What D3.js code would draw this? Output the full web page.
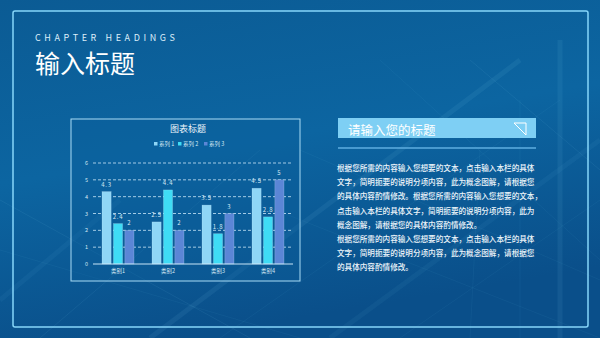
<html>
<head>
<meta charset="utf-8">
<style>
  body { margin: 0; background: #0b5a93; }
  svg { display: block; font-family: "Noto Sans CJK SC", "Noto Sans", sans-serif; }
</style>
</head>
<body>
  <div id="visualSVG"></div>
  <script src="https://d3js.org/d3.v7.min.js"></script>
  <script>
    // chart data
    var categories = ['类别1', '类别2', '类别3', '类别4'];
    var seriesNames = ['系列 1', '系列 2', '系列 3'];
    var series1 = [4.3, 2.5, 3.5, 4.5];
    var series2 = [2.4, 4.4, 1.8, 2.8];
    var series3 = [2, 2, 3, 5];
    var yTicks = [0, 1, 2, 3, 4, 5, 6];
    var seriesColors = ['#8fd6f6', '#3fdcf5', '#5b86d6'];

    var bodyLines = [
      '根据您所需的内容输入您想要的文本，点击输入本栏的具体',
      '文字，简明扼要的说明分项内容，此为概念图解，请根据您',
      '的具体内容酌情修改。根据您所需的内容输入您想要的文本，',
      '点击输入本栏的具体文字，简明扼要的说明分项内容，此为',
      '概念图解，请根据您的具体内容酌情修改。',
      '根据您所需的内容输入您想要的文本，点击输入本栏的具体',
      '文字，简明扼要的说明分项内容，此为概念图解，请根据您',
      '的具体内容酌情修改。'
    ];

    var svgWidth = 600, svgHeight = 338;
    var svg = d3.select('#visualSVG').append('svg')
      .attr('width', svgWidth)
      .attr('height', svgHeight);

    // background
    var defs = svg.append('defs');
    var bg = defs.append('linearGradient').attr('id', 'bg')
      .attr('x1', 0).attr('y1', 0).attr('x2', 0.3).attr('y2', 1);
    bg.append('stop').attr('offset', 0).attr('stop-color', '#0b5b94');
    bg.append('stop').attr('offset', 0.5).attr('stop-color', '#0c65a1');
    bg.append('stop').attr('offset', 1).attr('stop-color', '#0a4f8a');
    svg.append('rect').attr('width', svgWidth).attr('height', svgHeight).attr('fill', 'url(#bg)');

    // faint perspective lines in the background
    var deco = svg.append('g').attr('stroke', '#7fc4ee').attr('fill', 'none');
    var decoLines = [
      [150, 338, 520, 60], [220, 338, 560, 100], [0, 250, 300, 338], [0, 200, 250, 338],
      [330, 338, 600, 140], [400, 338, 600, 200], [470, 60, 600, 170], [380, 60, 600, 260],
      [0, 300, 120, 200], [40, 338, 260, 150], [250, 200, 600, 338], [300, 150, 600, 280],
      [560, 40, 560, 338], [520, 100, 520, 338], [480, 150, 470, 338]
    ];
    deco.selectAll('line').data(decoLines).enter().append('line')
      .attr('x1', function(d){ return d[0]; }).attr('y1', function(d){ return d[1]; })
      .attr('x2', function(d){ return d[2]; }).attr('y2', function(d){ return d[3]; })
      .attr('stroke-opacity', function(d, i){ return i % 3 == 0 ? 0.09 : 0.06; })
      .attr('stroke-width', function(d, i){ return i % 4 == 0 ? 5 : 1; });

    // frame
    svg.append('rect')
      .attr('x', 13).attr('y', 11).attr('width', 575).attr('height', 316)
      .attr('rx', 2)
      .attr('fill', 'none').attr('stroke', '#86d6fa').attr('stroke-width', 1.5);

    // headings
    svg.append('text')
      .attr('x', 35).attr('y', 41)
      .attr('font-size', 9).attr('fill', '#dceefa')
      .attr('textLength', 140).attr('lengthAdjust', 'spacing')
      .text('CHAPTER HEADINGS');
    svg.append('text')
      .attr('x', 35).attr('y', 73)
      .attr('font-size', 25).attr('fill', '#ffffff')
      .text('输入标题');

    // chart box
    svg.append('rect')
      .attr('x', 71).attr('y', 119).attr('width', 229).attr('height', 162)
      .attr('fill', '#0c5f9a').attr('fill-opacity', 0.35)
      .attr('stroke', '#a9dcf5').attr('stroke-width', 1);

    svg.append('text')
      .attr('x', 188).attr('y', 132)
      .attr('text-anchor', 'middle')
      .attr('font-size', 9).attr('fill', '#eef6fb')
      .text('图表标题');

    // legend
    var legendX = [154, 178, 204];
    var legend = svg.selectAll('.legend').data(seriesNames).enter().append('g')
      .attr('transform', function(d, i){ return 'translate(' + legendX[i] + ',144)'; });
    legend.append('rect').attr('x', 0).attr('y', -2).attr('width', 3.5).attr('height', 3.5)
      .attr('fill', function(d, i){ return seriesColors[i]; });
    legend.append('text').attr('x', 5).attr('y', 2)
      .attr('font-size', 5.5).attr('fill', '#d5e8f4')
      .text(function(d){ return d; });

    // scales
    var x0 = d3.scaleBand().domain(categories).range([93, 293])
      .paddingInner(0.36).paddingOuter(0.18);
    var x1 = d3.scaleBand().domain([0, 1, 2]).range([0, x0.bandwidth()]).paddingInner(0.2);
    var y = d3.scaleLinear().domain([0, 6]).range([264, 163]);

    // grid
    svg.append('g').selectAll('line').data(yTicks.slice(1)).enter().append('line')
      .attr('x1', 93).attr('x2', 293)
      .attr('y1', function(d){ return y(d); }).attr('y2', function(d){ return y(d); })
      .attr('stroke', '#c9e6f7').attr('stroke-opacity', 0.8)
      .attr('stroke-width', 1).attr('stroke-dasharray', '3,2');

    // y axis labels
    svg.append('g').selectAll('text').data(yTicks).enter().append('text')
      .attr('x', 88).attr('y', function(d){ return y(d) + 2; })
      .attr('text-anchor', 'end')
      .attr('font-size', 5.5).attr('fill', '#d5e8f4')
      .text(function(d){ return d; });

    // bars
    var allSeries = [series1, series2, series3];
    var groups = svg.append('g').selectAll('g').data(categories).enter().append('g')
      .attr('transform', function(d){ return 'translate(' + x0(d) + ',0)'; });
    var bars = groups.selectAll('g').data(function(d, ci){
        return allSeries.map(function(s, si){ return { si: si, v: s[ci] }; });
      }).enter().append('g');
    bars.append('rect')
      .attr('x', function(d){ return x1(d.si); })
      .attr('y', function(d){ return y(d.v); })
      .attr('width', x1.bandwidth())
      .attr('height', function(d){ return y(0) - y(d.v); })
      .attr('fill', function(d){ return seriesColors[d.si]; })
      .attr('stroke', '#d6f2ff').attr('stroke-opacity', 0.35).attr('stroke-width', 0.6);
    bars.append('text')
      .attr('x', function(d){ return x1(d.si) + x1.bandwidth() / 2; })
      .attr('y', function(d){ return y(d.v) - 5; })
      .attr('text-anchor', 'middle')
      .attr('font-size', 6).attr('letter-spacing', 0.8).attr('fill', '#d5e8f4')
      .text(function(d){ return d.v; });

    // x axis
    svg.append('line')
      .attr('x1', 93).attr('x2', 293).attr('y1', y(0)).attr('y2', y(0))
      .attr('stroke', '#c9e6f7').attr('stroke-width', 1);
    svg.append('g').selectAll('text').data(categories).enter().append('text')
      .attr('x', function(d){ return x0(d) + x0.bandwidth() / 2; })
      .attr('y', 273)
      .attr('text-anchor', 'middle')
      .attr('font-size', 5.5).attr('fill', '#d5e8f4')
      .text(function(d){ return d; });

    // right panel header
    svg.append('rect')
      .attr('x', 338).attr('y', 118).attr('width', 198).attr('height', 20)
      .attr('fill', '#7ecff4');
    svg.append('text')
      .attr('x', 348).attr('y', 135)
      .attr('font-size', 12.5).attr('fill', '#ffffff')
      .text('请输入您的标题');
    svg.append('path')
      .attr('d', 'M514,123 L526,123 L526,135 Z')
      .attr('fill', 'none').attr('stroke', '#ffffff').attr('stroke-width', 1);
    svg.append('line')
      .attr('x1', 338).attr('x2', 536).attr('y1', 148).attr('y2', 148)
      .attr('stroke', '#5eaee0').attr('stroke-width', 1.5);

    // body text
    svg.append('g').selectAll('text').data(bodyLines).enter().append('text')
      .attr('x', 337)
      .attr('y', function(d, i){ return 171 + i * 14.2; })
      .attr('font-size', 7.6).attr('font-weight', 500).attr('fill', '#eef6fb')
      .text(function(d){ return d; });
  </script>
</body>
</html>
